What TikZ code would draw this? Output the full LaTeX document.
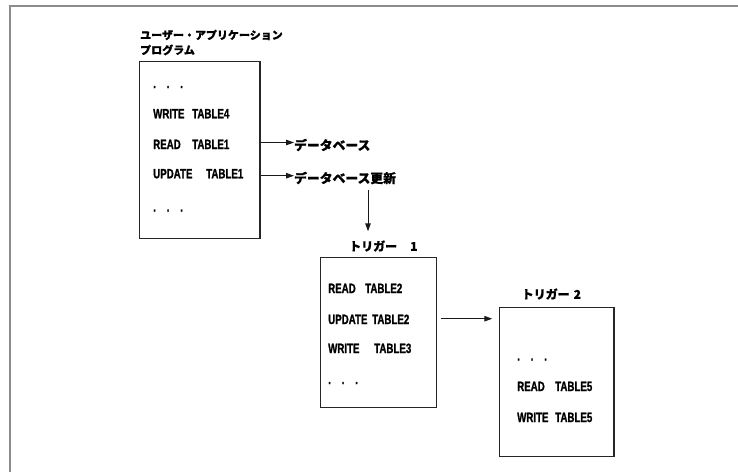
\documentclass[tikz,border=0pt]{standalone}
\usepackage{fontspec}
\usetikzlibrary{arrows.meta}
\newfontfamily\jp{Noto Sans CJK JP}[BoldFeatures={FakeBold=0.6}]
\newfontfamily\lat{Liberation Sans Bold}[FakeStretch=0.72, FakeBold=1.2]
\newcommand\tw[2]{\makebox[#1pt][l]{#2}}
\newcommand\threedots{\tw{13.5}{.}\tw{13.5}{.}.}
\tikzset{
  box/.style={draw=black!85, line width=1.1pt, inner sep=0pt},
  code/.style={anchor=base west, inner sep=0pt, font=\lat\fontsize{13.5}{13.5}\selectfont},
  jlab/.style={anchor=west, inner sep=0pt, font=\jp\bfseries\fontsize{12}{12}\selectfont},
  dblab/.style={anchor=west, inner sep=0pt, font=\jp\bfseries\fontsize{12.8}{12.8}\selectfont},
  jtitle/.style={anchor=west, inner sep=0pt, align=left, font=\jp\bfseries\fontsize{11}{15}\selectfont},
  arr/.style={-{Triangle[length=8pt,width=5.5pt]}, line width=1pt, draw=black!90},
  frame/.style={draw=black!45, line width=2pt}
}
\begin{document}
\begin{tikzpicture}[x=1pt,y=-1pt]
\useasboundingbox (0,0) rectangle (738,472);
\draw[frame] (10,472) -- (10,6) -- (738,6);

% program box
\node[jtitle] (title) at (140,42.5) {ユーザー・アプリケーション\\プログラム};
\node[box, minimum width=120.7pt, minimum height=176.6pt] (b1) at (199.65,150) {};
\node[code] (p0) at (153,88) {\threedots};
\node[code] (p1) at (153,118.3) {\tw{39}{WRITE}TABLE4};
\node[code] (p2) at (153,149) {\tw{39}{READ}TABLE1};
\node[code] (p3) at (153,178.3) {\tw{53}{UPDATE}TABLE1};
\node[code] (p4) at (153,211.5) {\threedots};

% database labels
\node[dblab] (db1) at (294,145) {データベース};
\node[dblab] (db2) at (294,178) {データベース更新};
\coordinate (a1) at (260,142.5);
\coordinate (a2) at (260,175.7);
\draw[arr] (b1.east |- a1) -- (a1 -| db1.west);
\draw[arr] (b1.east |- a2) -- (a2 -| db2.west);

% trigger 1
\node[jlab] (t1) at (349,246) {トリガー\hspace{13pt}1};
\node[box, minimum width=116pt, minimum height=149.6pt] (b2) at (378.7,332.5) {};
\node[code] (q1) at (328,293) {\tw{37}{READ}TABLE2};
\node[code] (q2) at (328,324) {\tw{44}{UPDATE}TABLE2};
\node[code] (q3) at (328,353) {\tw{46}{WRITE}TABLE3};
\node[code] (q4) at (328,384) {\threedots};

\coordinate (v) at (368,0);
\draw[arr, shorten <=6pt, shorten >=9pt] (v |- db2.south) -- (v |- t1.north);

% trigger 2
\node[jlab] (t2) at (521.5,294) {トリガー\hspace{4pt}2};
\node[box, minimum width=114.7pt, minimum height=149.4pt] (b3) at (556.65,382) {};
\node[code] (s0) at (517,360.5) {\threedots};
\node[code] (s1) at (517,391) {\tw{38}{READ}TABLE5};
\node[code] (s2) at (517,422) {\tw{38}{WRITE}TABLE5};

\coordinate (a3) at (0,318.7);
\draw[arr, shorten <=3.5pt, shorten >=6.5pt] (b2.east |- a3) -- (b3.west |- a3);
\end{tikzpicture}
\end{document}
